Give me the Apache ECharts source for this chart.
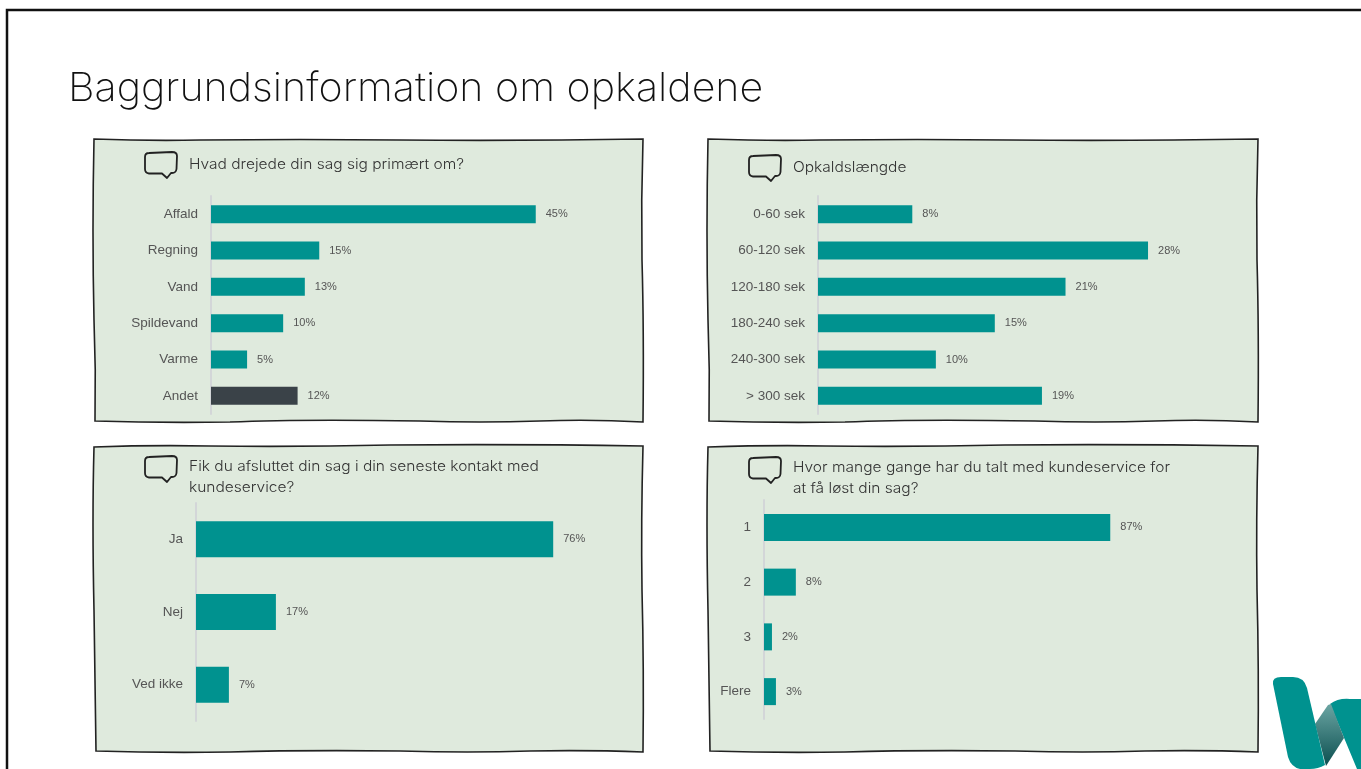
<!DOCTYPE html>
<html><head><meta charset="utf-8">
<style>html,body{margin:0;padding:0;background:#fff}#c{width:1361px;height:769px}</style>
<script src="https://cdn.jsdelivr.net/npm/echarts@6/dist/echarts.min.js"></script>
</head><body><div id="c"></div>
<script>
const titleText = 'Baggrundsinformation om opkaldene';
const q1 = 'Hvad drejede din sag sig primært om?';
const q2 = 'Opkaldslængde';
const q3 = 'Fik du afsluttet din sag i din seneste kontakt med\nkundeservice?';
const q4 = 'Hvor mange gange har du talt med kundeservice for\nat få løst din sag?';
const cats1 = ['Affald','Regning','Vand','Spildevand','Varme','Andet'];
const vals1 = [45,15,13,10,5,12];
const cats2 = ['0-60 sek','60-120 sek','120-180 sek','180-240 sek','240-300 sek','> 300 sek'];
const vals2 = [8,28,21,15,10,19];
const cats3 = ['Ja','Nej','Ved ikke'];
const vals3 = [76,17,7];
const cats4 = ['1','2','3','Flere'];
const vals4 = [87,8,2,3];
const TEAL = '#00928f', DARK = '#3a4248', PANEL = '#dfeadd', INK = '#222';

const panels = [
 'M94 139 Q150 141 200 140 Q300 139 400 140 Q520 141 643 139 Q641 200 642 260 Q644 330 643 422 Q590 419 540 421 Q480 423 420 421 Q300 419 230 422 Q160 423 95 421 Q96 370 94 320 Q92 230 94 139 Z',
 'M708 139 Q770 141 820 140 Q920 139 1010 140 Q1130 141 1258 139 Q1256 200 1257 260 Q1259 330 1258 422 Q1205 419 1155 421 Q1095 423 1035 421 Q915 419 845 422 Q775 423 709 421 Q710 370 708 320 Q706 230 708 139 Z',
 'M94 447 Q150 445 210 446 Q300 447 390 445 Q520 444 643 446 Q641 520 642 590 Q644 670 643 752 Q590 750 530 751 Q470 753 400 751 Q300 750 230 752 Q160 753 96 751 Q95 680 94 610 Q92 520 94 447 Z',
 'M708 447 Q770 445 825 446 Q915 447 1005 445 Q1130 444 1258 446 Q1256 520 1257 590 Q1259 670 1258 752 Q1205 750 1145 751 Q1085 753 1015 751 Q915 750 845 752 Q775 753 710 751 Q709 680 708 610 Q706 520 708 447 Z'
];
const bubbles = [[145,152],[749,155],[145,456],[749,457]];
const qTexts = [[q1,189,164.5],[q2,793,167.5],[q3,189,477.5],[q4,793,478.5]];

let shapeNo = 0;
function pathType(d){
 const name = 'svgp' + (shapeNo++);
 echarts.graphic.registerShape(name, echarts.graphic.extendPath(d, {}));
 return name;
}
function bubblePath(x,y){
 return `M${x+4} ${y+1} L${x+27} ${y} Q${x+32} ${y} ${x+32} ${y+4} L${x+31.5} ${y+17} Q${x+31} ${y+21} ${x+27} ${y+21} L${x+26} ${y+21} L${x+22} ${y+26} L${x+17} ${y+21.5} L${x+4} ${y+21.5} Q${x} ${y+21} ${x} ${y+17} L${x} ${y+5} Q${x} ${y+1} ${x+4} ${y+1} Z`;
}
const graphic = [
 {type:pathType('M7 769 L7 10 L1361 10'),z:0,silent:true,style:{fill:'none',stroke:'#111',lineWidth:2.5}},
 {type:'text',z:1,silent:true,x:68,y:89,scaleX:1.029,style:{text:titleText,fill:'#111',fontFamily:'Inter',fontWeight:200,fontSize:40,verticalAlign:'middle'}},
 ...panels.map(d=>({type:pathType(d),z:0,silent:true,style:{fill:PANEL,stroke:INK,lineWidth:1.6}})),
 ...bubbles.map(b=>({type:pathType(bubblePath(b[0],b[1])),z:1,silent:true,style:{fill:'none',stroke:INK,lineWidth:1.8,lineJoin:'round'}})),
 ...qTexts.map(t=>({type:'text',z:1,silent:true,x:t[1],y:t[2],scaleX:1.07,style:{text:t[0],fill:'#333',fontFamily:'Inter',fontWeight:300,fontSize:14.5,lineHeight:21,verticalAlign:'middle'}})),
 {type:pathType('M1330 704 Q1338 698 1350 699 L1361 699 L1361 769 L1357 769 Z'),z:1,silent:true,style:{fill:TEAL}},
 {type:pathType('M1315 724 L1328 705 L1331 704 L1344 738 L1326 766 Z'),z:2,silent:true,style:{fill:new echarts.graphic.LinearGradient(0,0,0,1,[{offset:0,color:'#6ba5a3'},{offset:1,color:'#0b4f50'}])}},
 {type:pathType('M1273 684 Q1272 677 1281 677 L1293 677 Q1304 677 1307 688 L1325 765 Q1318 769 1310 769 L1300 769 Q1291 767 1288 757 Z'),z:3,silent:true,style:{fill:TEAL}}
];

const grids = [
 {left:211,top:196,width:433,height:218},
 {left:818,top:196,width:353.6,height:218},
 {left:196,top:503,width:376,height:218},
 {left:764,top:500,width:398,height:219}
];
const maxes = [60,30,80,100];
const barW = [18,18,36,27];
const catsAll = [cats1,cats2,cats3,cats4];
const valsAll = [vals1,vals2,vals3,vals4];

const option = {
 animation:false,
 graphic:{elements:graphic},
 grid:grids,
 xAxis:grids.map((g,i)=>({type:'value',gridIndex:i,min:0,max:maxes[i],show:false})),
 yAxis:grids.map((g,i)=>({type:'category',gridIndex:i,inverse:true,data:catsAll[i],
   axisLine:{show:true,lineStyle:{color:'#d3d6d8',width:2}},axisTick:{show:false},
   axisLabel:{margin:13,color:'#555',fontFamily:'Liberation Sans',fontSize:13.5}})),
 series:grids.map((g,i)=>({type:'bar',xAxisIndex:i,yAxisIndex:i,barWidth:barW[i],z:3,
   data:valsAll[i].map((v,k)=>(catsAll[i][k]==='Andet'?{value:v,itemStyle:{color:DARK}}:v)),
   itemStyle:{color:TEAL},
   label:{show:true,position:'right',distance:10,formatter:'{c}%',color:'#555',fontFamily:'Liberation Sans',fontSize:11}}))
};
echarts.init(document.getElementById('c')).setOption(option);
</script></body></html>
